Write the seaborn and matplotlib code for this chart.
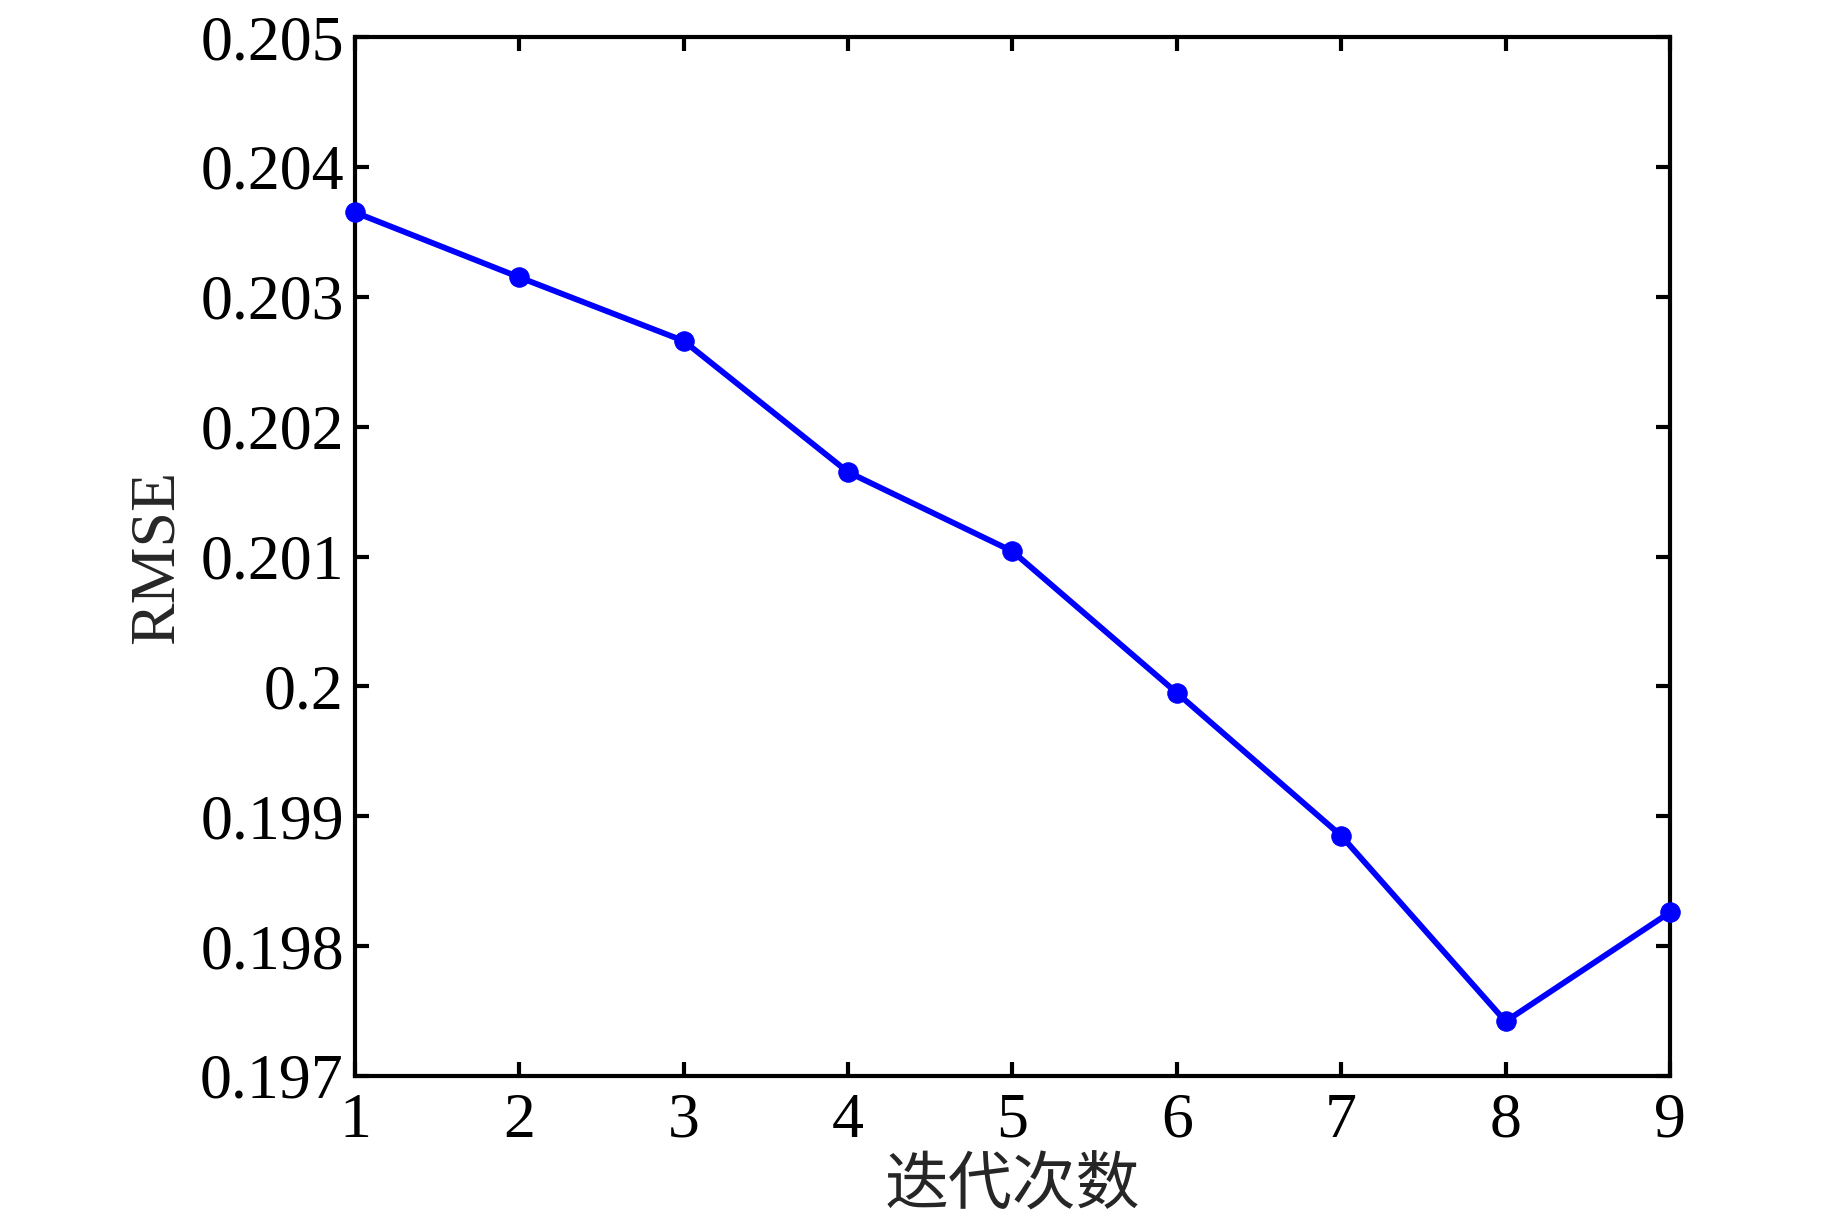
import matplotlib
matplotlib.use('Agg')
import matplotlib.pyplot as plt
import seaborn as sns
import pandas as pd

# --- data ---
iterations = [1, 2, 3, 4, 5, 6, 7, 8, 9]
rmse = [0.20365, 0.20315, 0.20266, 0.20165, 0.20104, 0.19995, 0.19885, 0.19742, 0.19826]
y_ticks = [0.197, 0.198, 0.199, 0.2, 0.201, 0.202, 0.203, 0.204, 0.205]
y_tick_labels = ['0.197', '0.198', '0.199', '0.2', '0.201', '0.202', '0.203', '0.204', '0.205']

df = pd.DataFrame({'iter': iterations, 'rmse': rmse})

sns.set_style('ticks')
plt.rcParams['font.family'] = ['Liberation Serif', 'Noto Sans CJK SC']

fig = plt.figure(figsize=(18.43, 12.18), dpi=100)
ax = fig.add_axes([0.1926, 0.1166, 0.7135, 0.853])

sns.lineplot(data=df, x='iter', y='rmse', ax=ax, color='#0000ff',
             linewidth=4.2, marker='o', markersize=14,
             markeredgecolor='#0000ff', clip_on=False, zorder=5)

ax.set_xlim(1, 9)
ax.set_ylim(0.197, 0.205)
ax.set_xticks(iterations)
ax.set_yticks(y_ticks)
ax.set_yticklabels(y_tick_labels)

for s in ax.spines.values():
    s.set_visible(True)
    s.set_linewidth(3)
    s.set_color('black')

ax.tick_params(direction='in', length=10, width=3, top=True, right=True,
               labelsize=46, colors='black')
ax.tick_params(axis='x', pad=12)
ax.tick_params(axis='y', pad=8)

ax.set_xlabel('迭代次数', fontsize=46, family=['Noto Sans CJK SC'], labelpad=2)
ax.set_ylabel('RMSE', fontsize=46, labelpad=10)

fig.savefig('out.png', dpi=100)
